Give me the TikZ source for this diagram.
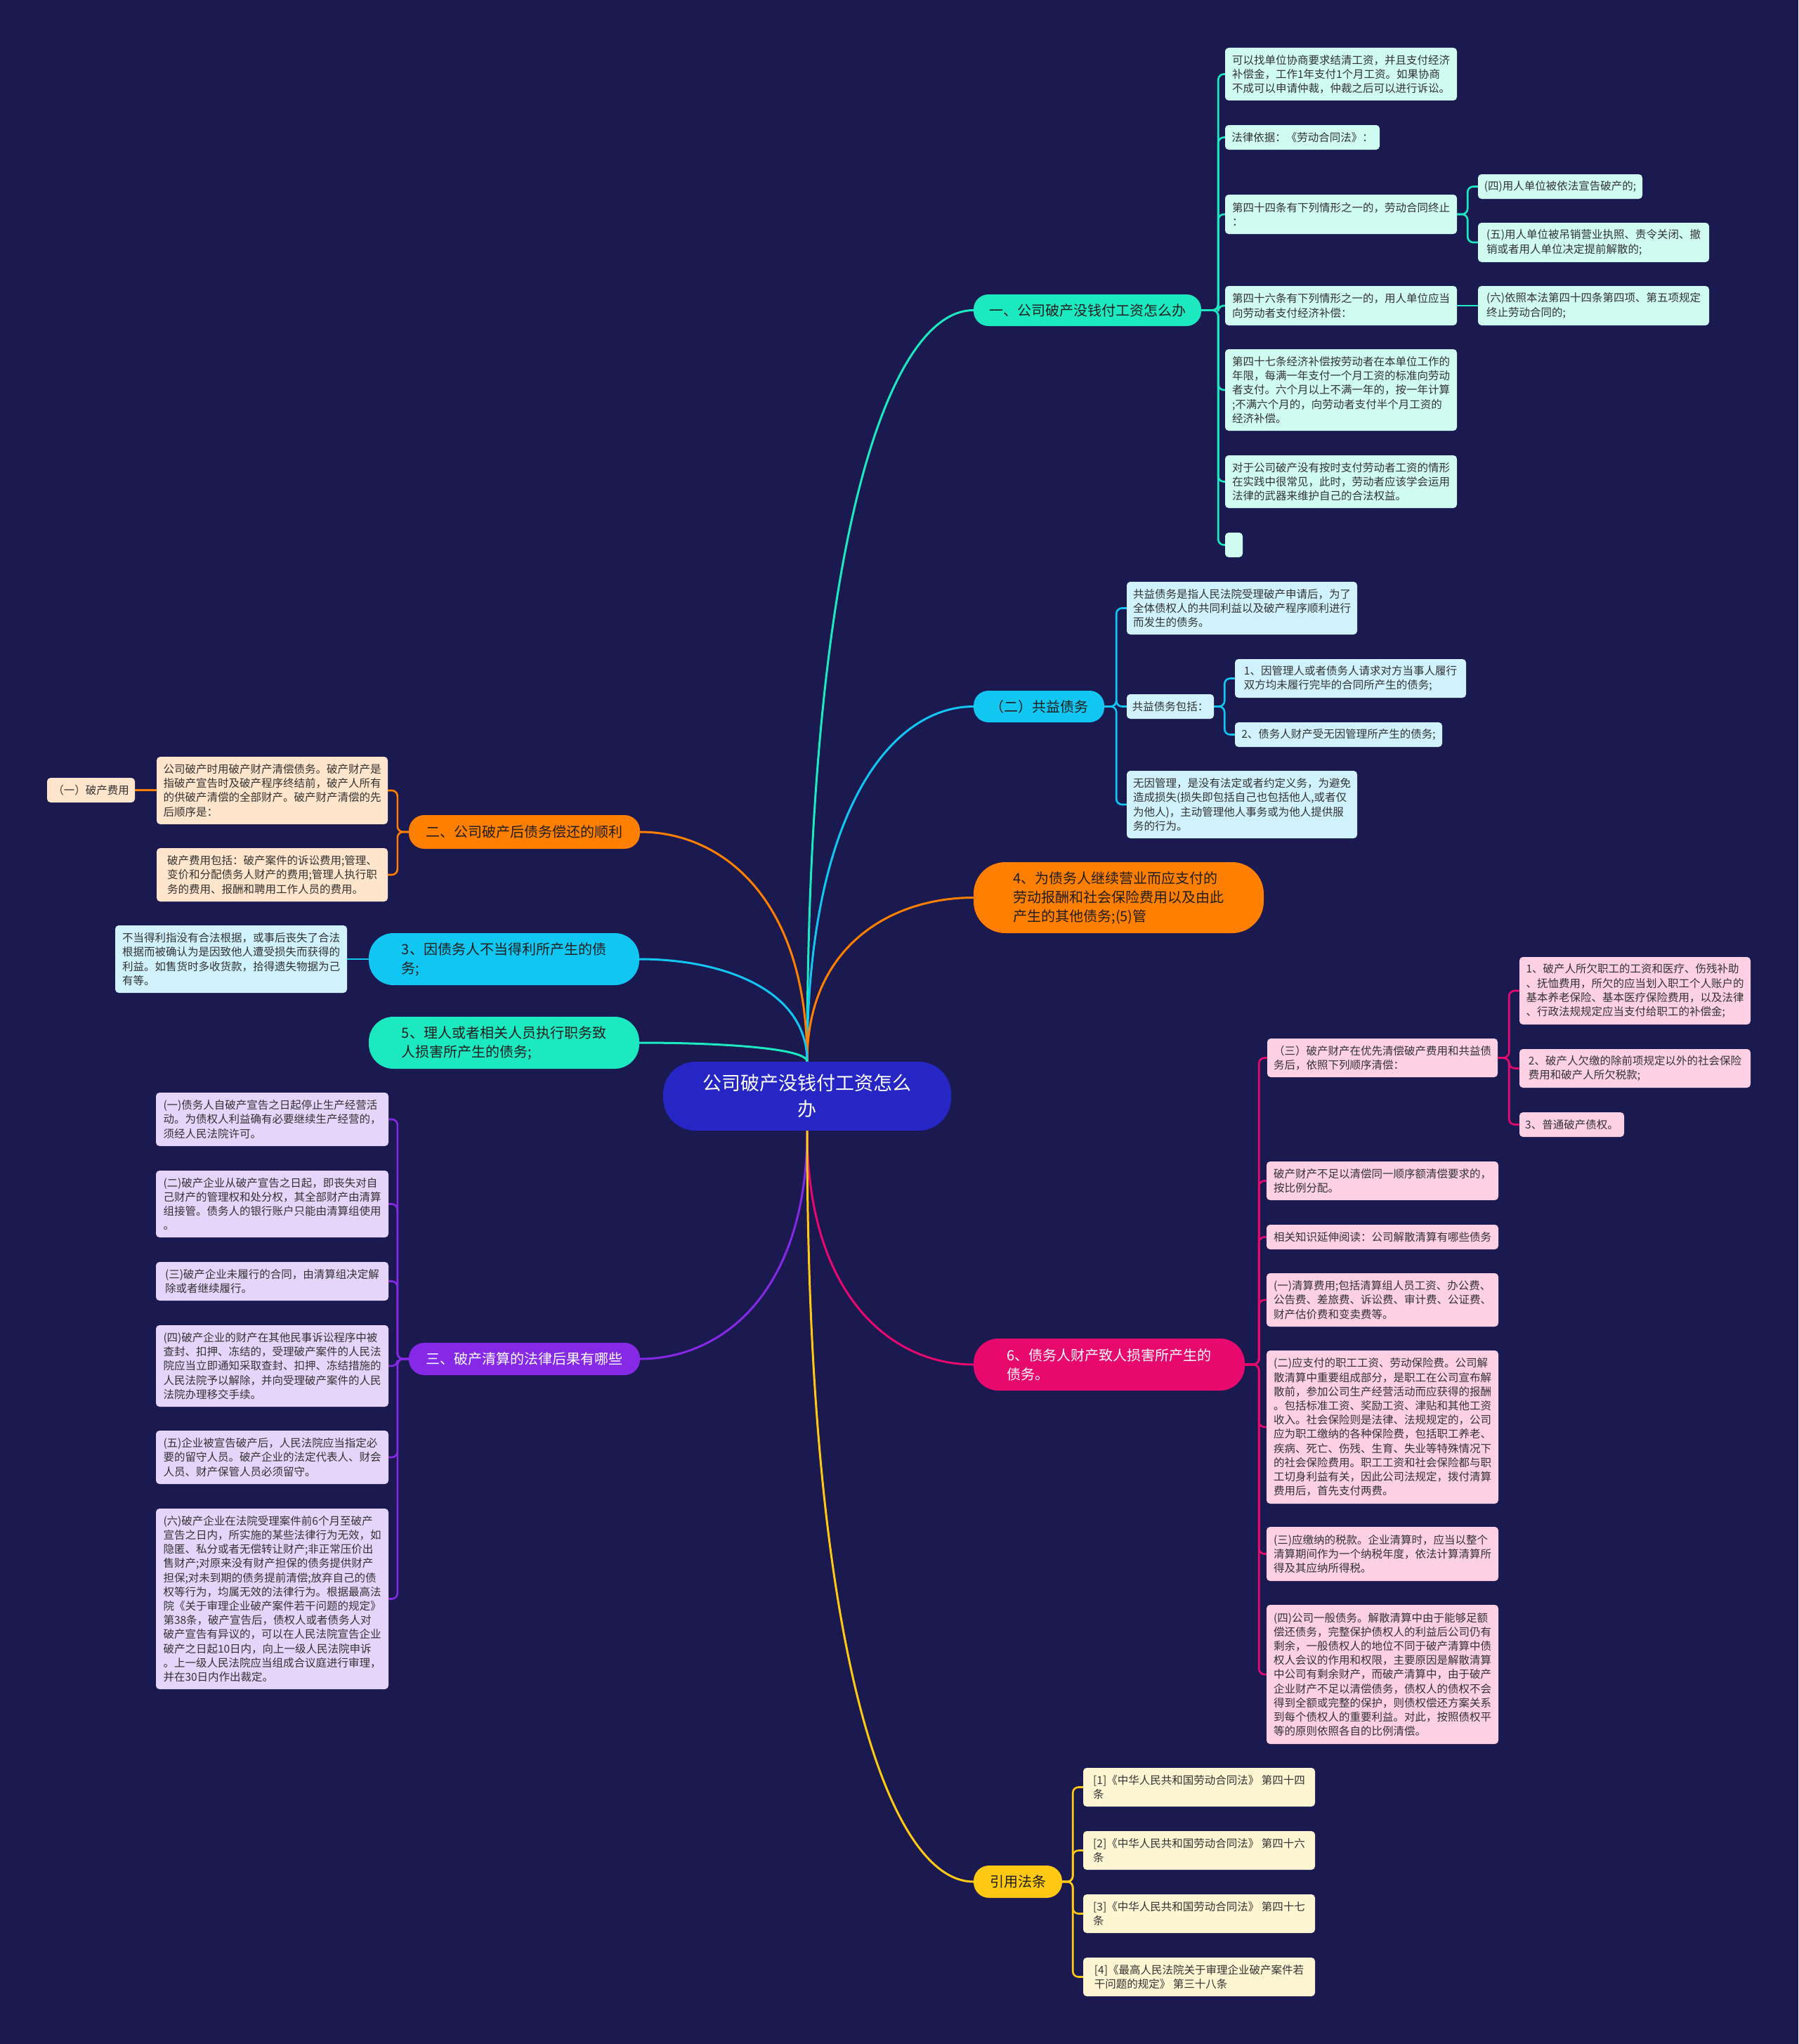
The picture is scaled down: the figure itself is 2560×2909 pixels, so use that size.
\documentclass[tikz,border=0pt]{standalone}
\usepackage{fontspec}
\setmainfont{Noto Sans CJK SC}
\usetikzlibrary{backgrounds,calc}
\definecolor{bg}{HTML}{1A1950}
\definecolor{rootc}{HTML}{2626C4}
\definecolor{tealc}{HTML}{1DE9C0}
\definecolor{cyanc}{HTML}{12C6F2}
\definecolor{orangec}{HTML}{FF7F00}
\definecolor{purplec}{HTML}{8629E6}
\definecolor{pinkc}{HTML}{E8096F}
\definecolor{yellowc}{HTML}{FFC812}
\definecolor{tealL}{HTML}{CFFBF1}
\definecolor{cyanL}{HTML}{CFF2FD}
\definecolor{orangeL}{HTML}{FFE5CB}
\definecolor{purpleL}{HTML}{E5D5FB}
\definecolor{pinkL}{HTML}{FDD0E4}
\definecolor{yellowL}{HTML}{FEF5D3}
\definecolor{leaftext}{HTML}{333333}
\definecolor{darktext}{HTML}{1E1E1E}
\tikzset{
  leaf/.style={rectangle, rounded corners=5pt, inner sep=0pt, align=left, text=leaftext, font=\fontsize{15.5}{20.2}\selectfont},
  tleaf/.style={leaf, fill=tealL},
  cleaf/.style={leaf, fill=cyanL},
  oleaf/.style={leaf, fill=orangeL},
  pleaf/.style={leaf, fill=purpleL},
  kleaf/.style={leaf, fill=pinkL},
  yleaf/.style={leaf, fill=yellowL},
  branch/.style={rectangle, inner sep=0pt, align=left, text=darktext, font=\fontsize{20}{27}\selectfont},
  conn/.style={line width=2.6pt, line cap=round},
  mconn/.style={line width=3pt, line cap=round},
}
\newcommand{\bx}[7]{\node[#1,minimum width={(#5-#3)*1pt},minimum height={(#6-#4)*1pt}] (#2) at ({(#3+#5)/2},{(#4+#6)/2}) {#7};}
\newcommand{\rbr}[4]{\draw[conn,#1,rounded corners=8pt] (#2.east) -- ++(#4,0) |- (#3.west);}
\newcommand{\lbr}[4]{\draw[conn,#1,rounded corners=8pt] (#2.west) -- ++(-#4,0) |- (#3.east);}
\newcommand{\medge}[3]{\draw[mconn,#1] (#2) .. controls ($(#2)!0.7!(#2|-#3)$) and ($(#3)!0.5!(#2|-#3)$) .. (#3);}
\begin{document}
\begin{tikzpicture}[x=1pt,y=-1pt]
\begin{pgfonlayer}{background}
\fill[bg] (0,0) rectangle (2560,2909);
\end{pgfonlayer}
\useasboundingbox (0,0) rectangle (2560,2909);

% root
\bx{rectangle,rounded corners=46pt,fill=rootc,text=white,align=center,inner sep=0pt,font=\fontsize{27}{37}\selectfont}{root}{944}{1511}{1354}{1609}{公司破产没钱付工资怎么\\办}

% branches
\bx{branch,fill=tealc,rounded corners=21pt}{b1}{1386}{419}{1710}{464}{一、公司破产没钱付工资怎么办}
\bx{branch,fill=cyanc,rounded corners=21pt}{b2}{1386}{983}{1572}{1028}{（二）共益债务}
\bx{branch,fill=orangec,rounded corners=22pt}{b3}{582}{1160}{911}{1208}{二、公司破产后债务偿还的顺利}
\bx{branch,fill=orangec,rounded corners=45pt}{b4}{1386}{1227}{1799}{1328}{4、为债务人继续营业而应支付的\\劳动报酬和社会保险费用以及由此\\产生的其他债务;(5)管}
\bx{branch,fill=cyanc,rounded corners=35pt}{b5}{525}{1328}{910}{1402}{3、因债务人不当得利所产生的债\\务;}
\bx{branch,fill=tealc,rounded corners=35pt}{b6}{525}{1447}{910}{1521}{5、理人或者相关人员执行职务致\\人损害所产生的债务;}
\bx{branch,fill=purplec,text=white,rounded corners=22pt}{b7}{582}{1911}{911}{1957}{三、破产清算的法律后果有哪些}
\bx{branch,fill=pinkc,text=white,rounded corners=35pt}{b8}{1386}{1905}{1772}{1979}{6、债务人财产致人损害所产生的\\债务。}
\bx{branch,fill=yellowc,rounded corners=22pt}{b9}{1386}{2655}{1512}{2701}{引用法条}

% branch 1 leaves
\bx{tleaf}{c1a}{1744}{68}{2074}{143}{可以找单位协商要求结清工资，并且支付经济\\补偿金，工作1年支付1个月工资。如果协商\\不成可以申请仲裁，仲裁之后可以进行诉讼。}
\bx{tleaf}{c1b}{1744}{178}{1964}{213}{法律依据：《劳动合同法》：}
\bx{tleaf}{c1c}{1744}{277}{2074}{333}{第四十四条有下列情形之一的，劳动合同终止\\：}
\bx{tleaf}{c1c1}{2104}{248}{2338}{283}{(四)用人单位被依法宣告破产的;}
\bx{tleaf}{c1c2}{2104}{317}{2433}{373}{(五)用人单位被吊销营业执照、责令关闭、撤\\销或者用人单位决定提前解散的;}
\bx{tleaf}{c1d}{1744}{407}{2074}{463}{第四十六条有下列情形之一的，用人单位应当\\向劳动者支付经济补偿：}
\bx{tleaf}{c1d1}{2104}{407}{2433}{463}{(六)依照本法第四十四条第四项、第五项规定\\终止劳动合同的;}
\bx{tleaf}{c1e}{1744}{497}{2074}{613}{第四十七条经济补偿按劳动者在本单位工作的\\年限，每满一年支付一个月工资的标准向劳动\\者支付。六个月以上不满一年的，按一年计算\\;不满六个月的，向劳动者支付半个月工资的\\经济补偿。}
\bx{tleaf}{c1f}{1744}{648}{2074}{723}{对于公司破产没有按时支付劳动者工资的情形\\在实践中很常见，此时，劳动者应该学会运用\\法律的武器来维护自己的合法权益。}
\bx{tleaf}{c1g}{1744}{758}{1769}{793}{}

% branch 2 leaves
\bx{cleaf}{c2a}{1604}{828}{1932}{903}{共益债务是指人民法院受理破产申请后，为了\\全体债权人的共同利益以及破产程序顺利进行\\而发生的债务。}
\bx{cleaf}{c2b}{1604}{988}{1728}{1023}{共益债务包括：}
\bx{cleaf}{c2b1}{1758}{938}{2087}{993}{1、因管理人或者债务人请求对方当事人履行\\双方均未履行完毕的合同所产生的债务;}
\bx{cleaf}{c2b2}{1758}{1028}{2053}{1063}{2、债务人财产受无因管理所产生的债务;}
\bx{cleaf}{c2c}{1604}{1097}{1932}{1193}{无因管理，是没有法定或者约定义务，为避免\\造成损失(损失即包括自己也包括他人,或者仅\\为他人)，主动管理他人事务或为他人提供服\\务的行为。}

% branch 3 leaves
\bx{oleaf}{c3a}{223}{1077}{552}{1173}{公司破产时用破产财产清偿债务。破产财产是\\指破产宣告时及破产程序终结前，破产人所有\\的供破产清偿的全部财产。破产财产清偿的先\\后顺序是：}
\bx{oleaf}{c3a1}{67}{1107}{192}{1142}{（一）破产费用}
\bx{oleaf}{c3b}{223}{1207}{552}{1283}{破产费用包括：破产案件的诉讼费用;管理、\\变价和分配债务人财产的费用;管理人执行职\\务的费用、报酬和聘用工作人员的费用。}

% branch 5 leaf
\bx{cleaf}{c5a}{164}{1317}{494}{1413}{不当得利指没有合法根据，或事后丧失了合法\\根据而被确认为是因致他人遭受损失而获得的\\利益。如售货时多收货款，拾得遗失物据为己\\有等。}

% branch 7 leaves
\bx{pleaf}{c7a}{222}{1555}{553}{1631}{(一)债务人自破产宣告之日起停止生产经营活\\动。为债权人利益确有必要继续生产经营的，\\须经人民法院许可。}
\bx{pleaf}{c7b}{222}{1666}{553}{1761}{(二)破产企业从破产宣告之日起，即丧失对自\\己财产的管理权和处分权，其全部财产由清算\\组接管。债务人的银行账户只能由清算组使用\\。}
\bx{pleaf}{c7c}{222}{1796}{553}{1851}{(三)破产企业未履行的合同，由清算组决定解\\除或者继续履行。}
\bx{pleaf}{c7d}{222}{1886}{553}{2002}{(四)破产企业的财产在其他民事诉讼程序中被\\查封、扣押、冻结的，受理破产案件的人民法\\院应当立即通知采取查封、扣押、冻结措施的\\人民法院予以解除，并向受理破产案件的人民\\法院办理移交手续。}
\bx{pleaf}{c7e}{222}{2036}{553}{2112}{(五)企业被宣告破产后，人民法院应当指定必\\要的留守人员。破产企业的法定代表人、财会\\人员、财产保管人员必须留守。}
\bx{pleaf}{c7f}{222}{2147}{553}{2404}{(六)破产企业在法院受理案件前6个月至破产\\宣告之日内，所实施的某些法律行为无效，如\\隐匿、私分或者无偿转让财产;非正常压价出\\售财产;对原来没有财产担保的债务提供财产\\担保;对未到期的债务提前清偿;放弃自己的债\\权等行为，均属无效的法律行为。根据最高法\\院《关于审理企业破产案件若干问题的规定》\\第38条，破产宣告后，债权人或者债务人对\\破产宣告有异议的，可以在人民法院宣告企业\\破产之日起10日内，向上一级人民法院申诉\\。上一级人民法院应当组成合议庭进行审理，\\并在30日内作出裁定。}

% branch 8 leaves
\bx{kleaf}{c8a}{1804}{1478}{2132}{1533}{（三）破产财产在优先清偿破产费用和共益债\\务后，依照下列顺序清偿：}
\bx{kleaf}{c8a1}{2163}{1362}{2492}{1458}{1、破产人所欠职工的工资和医疗、伤残补助\\、抚恤费用，所欠的应当划入职工个人账户的\\基本养老保险、基本医疗保险费用，以及法律\\、行政法规规定应当支付给职工的补偿金;}
\bx{kleaf}{c8a2}{2163}{1493}{2492}{1548}{2、破产人欠缴的除前项规定以外的社会保险\\费用和破产人所欠税款;}
\bx{kleaf}{c8a3}{2163}{1583}{2312}{1618}{3、普通破产债权。}
\bx{kleaf}{c8b}{1803}{1653}{2133}{1708}{破产财产不足以清偿同一顺序额清偿要求的，\\按比例分配。}
\bx{kleaf}{c8c}{1803}{1743}{2133}{1778}{相关知识延伸阅读：公司解散清算有哪些债务}
\bx{kleaf}{c8d}{1803}{1812}{2133}{1888}{(一)清算费用;包括清算组人员工资、办公费、\\公告费、差旅费、诉讼费、审计费、公证费、\\财产估价费和变卖费等。}
\bx{kleaf}{c8e}{1803}{1922}{2133}{2140}{(二)应支付的职工工资、劳动保险费。公司解\\散清算中重要组成部分，是职工在公司宣布解\\散前，参加公司生产经营活动而应获得的报酬\\。包括标准工资、奖励工资、津贴和其他工资\\收入。社会保险则是法律、法规规定的，公司\\应为职工缴纳的各种保险费，包括职工养老、\\疾病、死亡、伤残、生育、失业等特殊情况下\\的社会保险费用。职工工资和社会保险都与职\\工切身利益有关，因此公司法规定，拨付清算\\费用后，首先支付两费。}
\bx{kleaf}{c8f}{1803}{2173}{2133}{2250}{(三)应缴纳的税款。企业清算时，应当以整个\\清算期间作为一个纳税年度，依法计算清算所\\得及其应纳所得税。}
\bx{kleaf}{c8g}{1803}{2284}{2133}{2482}{(四)公司一般债务。解散清算中由于能够足额\\偿还债务，完整保护债权人的利益后公司仍有\\剩余，一般债权人的地位不同于破产清算中债\\权人会议的作用和权限，主要原因是解散清算\\中公司有剩余财产，而破产清算中，由于破产\\企业财产不足以清偿债务，债权人的债权不会\\得到全额或完整的保护，则债权偿还方案关系\\到每个债权人的重要利益。对此，按照债权平\\等的原则依照各自的比例清偿。}

% branch 9 leaves
\bx{yleaf}{c9a}{1542}{2516}{1872}{2571}{[1]《中华人民共和国劳动合同法》 第四十四\\条}
\bx{yleaf}{c9b}{1542}{2606}{1872}{2661}{[2]《中华人民共和国劳动合同法》 第四十六\\条}
\bx{yleaf}{c9c}{1542}{2696}{1872}{2751}{[3]《中华人民共和国劳动合同法》 第四十七\\条}
\bx{yleaf}{c9d}{1542}{2786}{1872}{2841}{[4]《最高人民法院关于审理企业破产案件若\\干问题的规定》 第三十八条}

\begin{pgfonlayer}{background}
% main edges
\medge{tealc}{root.north}{b1.west}
\medge{cyanc}{root.north}{b2.west}
\medge{orangec}{root.north}{b3.east}
\medge{orangec}{root.north}{b4.west}
\medge{cyanc}{root.north}{b5.east}
\medge{tealc}{root.north}{b6.east}
\medge{purplec}{root.south}{b7.east}
\medge{pinkc}{root.south}{b8.west}
\medge{yellowc}{root.south}{b9.west}

% branch 1
\foreach \c in {c1a,c1b,c1c,c1d,c1e,c1f,c1g} {\rbr{tealc}{b1}{\c}{24}}
\foreach \c in {c1c1,c1c2} {\rbr{tealc}{c1c}{\c}{15}}
\draw[conn,tealc] (c1d.east) -- (c1d1.west);
% branch 2
\foreach \c in {c2a,c2b,c2c} {\rbr{cyanc}{b2}{\c}{17}}
\foreach \c in {c2b1,c2b2} {\rbr{cyanc}{c2b}{\c}{15}}
% branch 3
\foreach \c in {c3a,c3b} {\lbr{orangec}{b3}{\c}{16}}
\draw[conn,orangec] (c3a.west|-c3a1.east) -- (c3a1.east);
% branch 5
\draw[conn,cyanc] (b5.west) -- (c5a.east);
% branch 7
\foreach \c in {c7a,c7b,c7c,c7d,c7e,c7f} {\lbr{purplec}{b7}{\c}{16}}
% branch 8
\foreach \c in {c8a,c8b,c8c,c8d,c8e,c8f,c8g} {\rbr{pinkc}{b8}{\c}{20}}
\foreach \c in {c8a1,c8a2,c8a3} {\rbr{pinkc}{c8a}{\c}{16}}
% branch 9
\foreach \c in {c9a,c9b,c9c,c9d} {\rbr{yellowc}{b9}{\c}{15}}
\end{pgfonlayer}
\end{tikzpicture}
\end{document}
